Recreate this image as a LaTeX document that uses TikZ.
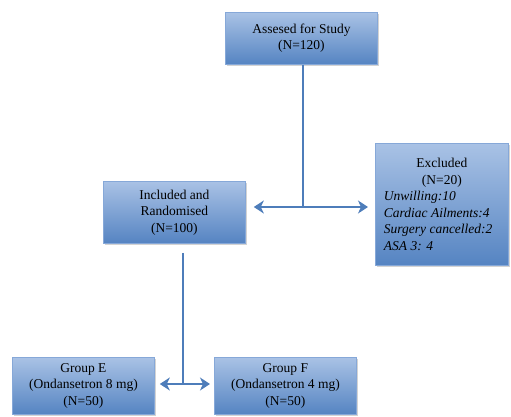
\documentclass[tikz,border=0pt]{standalone}
\usepackage{fontspec}
\setmainfont{Liberation Serif}
\newfontfamily\boxfont{Liberation Serif}
\usetikzlibrary{arrows.meta,shadows}
\definecolor{boxtop}{HTML}{A9C2E5}
\definecolor{boxbot}{HTML}{5584C2}
\definecolor{boxline}{HTML}{86A8D8}
\definecolor{arrowc}{HTML}{4E7DBA}
\begin{document}
\begin{tikzpicture}[x=1pt,y=-1pt,
  box/.style={draw=boxline, line width=0.8pt, top color=boxtop, bottom color=boxbot,
    drop shadow={opacity=0.35, shadow xshift=1.2pt, shadow yshift=-2pt},
    anchor=north west, inner sep=0pt, align=center,
    font=\boxfont\fontsize{13.5}{16.5}\selectfont},
  conn/.style={draw=arrowc, line width=2.8pt},
  arr/.style={conn, {Stealth[length=10pt,width=13pt,inset=3pt]}-{Stealth[length=10pt,width=13pt,inset=3pt]}}]
\useasboundingbox (0,0) rectangle (511,417);
\clip (0,0) rectangle (511,417);
\node[box, minimum width=152pt, minimum height=52pt] (top) at (225,12)
  {Assesed for Study\\(N=120)};
\node[box, minimum width=133pt, minimum height=122pt] (exc) at (375,143)
  {\begin{minipage}{116pt}\centering Excluded\\(N=20)\\[0pt]
   \raggedright\itshape Unwilling:10\\Cardiac Ailments:4\\Surgery cancelled:2\\ASA 3: 4\end{minipage}};
\node[box, minimum width=142pt, minimum height=62pt] (inc) at (103,181)
  {Included and\\Randomised\\(N=100)};
\node[box, minimum width=142pt, minimum height=57pt] (ge) at (12,357)
  {Group E\\(Ondansetron 8 mg)\\(N=50)};
\node[box, minimum width=142pt, minimum height=57pt] (gf) at (214,357)
  {Group F\\(Ondansetron 4 mg)\\(N=50)};
\coordinate (j1) at (303,207);
\coordinate (j2) at (183,384);
\draw[conn] (top.south -| j1) -- (j1);
\draw[arr, shorten <=8pt, shorten >=7pt] (inc.east |- j1) -- (exc.west |- j1);
\draw[conn, shorten <=9pt] (inc.south -| j2) -- (j2);
\draw[arr, shorten <=5pt, shorten >=4pt] (ge.east |- j2) -- (gf.west |- j2);
\end{tikzpicture}
\end{document}
